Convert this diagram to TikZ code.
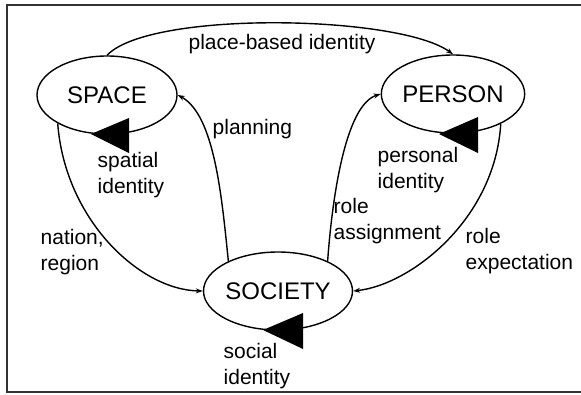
\documentclass[tikz,border=0pt]{standalone}
\usepackage{fontspec}
\setmainfont{Liberation Sans}
\usetikzlibrary{shapes.geometric,arrows.meta}

\begin{document}
\begin{tikzpicture}[x=1pt, y=-1pt, line width=1.4pt,
	place/.style={ellipse, draw, minimum width=140pt, minimum height=78pt, inner sep=0pt, font=\fontsize{24}{28}\selectfont},
	lbl/.style={anchor=west, align=left, inner sep=0pt, font=\fontsize{21}{25.5}\selectfont},
	link/.style={-{Stealth[length=7pt, width=5pt]}}]

	\useasboundingbox (0,0) rectangle (581,394);
	\draw[line width=2pt, black!80] (581,5) -- (7,5) -- (7,392) -- (581,392);

	\node[place] (space) at (107,95) {SPACE};
	\node[place] (person) at (453,94) {PERSON};
	\node[place] (society) at (278,291) {SOCIETY};

	\coordinate (spacetip) at ([shift={(-16,39)}]space.center);
	\coordinate (persontip) at ([shift={(-14,40)}]person.center);
	\coordinate (societytip) at ([shift={(-15,39)}]society.center);

	\fill[black] (spacetip) -- ++(38,-16) -- ++(0,35) -- cycle;
	\fill[black] (persontip) -- ++(39,-17) -- ++(0,36) -- cycle;
	\fill[black] (societytip) -- ++(40,-17) -- ++(0,36) -- cycle;

	\draw[link] (space.north) .. controls (150,10) and (400,15) .. (person.north);
	\draw[link] (society.149) .. controls (222,200) and (215,115) .. (space.east);
	\draw[link] (space.210) .. controls (65,220) and (140,290) .. (society.west);
	\draw[link] (society.31) .. controls (332,200) and (345,105) .. (person.west);
	\draw[link] (person.-32) .. controls (495,220) and (410,285) .. (society.east);

	\node[anchor=center, inner sep=0pt, font=\fontsize{21}{25.5}\selectfont] (placebased) at (282,44) {place-based identity};
	\node[lbl] (planning) at (212,129) {planning};
	\node[lbl] (spatial) at (97,175) {spatial\\identity};
	\node[lbl] (personal) at (377,170) {personal\\identity};
	\node[lbl] (nation) at (40,252) {nation,\\region};
	\node[lbl] (assign) at (333,221) {role\\assignment};
	\node[lbl] (expect) at (465,251) {role\\expectation};
	\node[lbl] (social) at (223,366) {social\\identity};

\end{tikzpicture}
\end{document}
